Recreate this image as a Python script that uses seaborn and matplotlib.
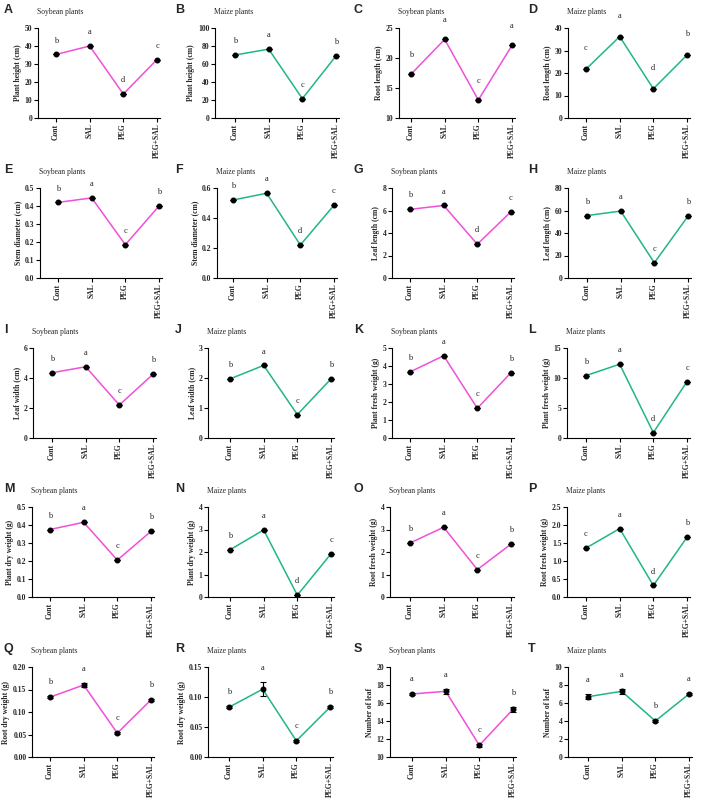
import pandas as pd
import matplotlib.pyplot as plt
import seaborn as sns
from matplotlib.ticker import MultipleLocator, FormatStrFormatter

treatments = ["Cont", "SAL", "PEG", "PEG+SAL"]

# means (soybean / maize)
soy_height = [35.3, 40.0, 13.3, 32.5]
maize_height = [70.0, 76.5, 21.5, 69.0]
soy_root_len = [17.3, 23.1, 13.0, 22.1]
maize_root_len = [21.7, 36.2, 13.0, 28.0]
soy_stem = [0.42, 0.445, 0.185, 0.40]
maize_stem = [0.52, 0.565, 0.22, 0.485]
soy_leaf_len = [6.1, 6.45, 3.0, 5.9]
maize_leaf_len = [55.5, 59.5, 13.5, 55.0]
soy_leaf_wid = [4.35, 4.75, 2.2, 4.25]
maize_leaf_wid = [1.97, 2.42, 0.78, 1.97]
soy_plant_fw = [3.67, 4.57, 1.65, 3.63]
maize_plant_fw = [10.4, 12.3, 0.9, 9.4]
soy_plant_dw = [0.375, 0.415, 0.205, 0.365]
maize_plant_dw = [2.1, 2.98, 0.08, 1.92]
soy_root_fw = [2.4, 3.1, 1.22, 2.35]
maize_root_fw = [1.36, 1.9, 0.32, 1.66]
soy_root_dw = [0.133, 0.160, 0.053, 0.127]
maize_root_dw = [0.083, 0.113, 0.027, 0.083]
soy_leaf_num = [17.0, 17.3, 11.3, 15.3]
maize_leaf_num = [6.7, 7.3, 4.0, 7.0]

# standard errors (mostly hidden under the markers)
soy_leaf_num_se = [0.15, 0.3, 0.15, 0.3]
maize_leaf_num_se = [0.3, 0.3, 0.15, 0.15]
maize_root_dw_se = [0.002, 0.012, 0.002, 0.002]
soy_root_dw_se = [0.002, 0.004, 0.002, 0.002]

# significance letters
letters = {
    "A": "badc", "B": "bacb", "C": "baca", "D": "cadb",
    "E": "bacb", "F": "badc", "G": "badc", "H": "bacb",
    "I": "bacb", "J": "bacb", "K": "bacb", "L": "badc",
    "M": "bacb", "N": "badc", "O": "bacb", "P": "cadb",
    "Q": "bacb", "R": "bacb", "S": "aacb", "T": "aaba",
}

zero = [0, 0, 0, 0]
# letter, species, ylabel, values, se, ymin, ymax, step, decimals
panels = [
    ("A", "Soybean plants", "Plant height (cm)", soy_height, zero, 0, 50, 10, 0),
    ("B", "Maize plants", "Plant height (cm)", maize_height, zero, 0, 100, 20, 0),
    ("C", "Soybean plants", "Root length (cm)", soy_root_len, zero, 10, 25, 5, 0),
    ("D", "Maize plants", "Root length (cm)", maize_root_len, zero, 0, 40, 10, 0),
    ("E", "Soybean plants", "Stem diameter (cm)", soy_stem, zero, 0, 0.5, 0.1, 1),
    ("F", "Maize plants", "Stem diameter (cm)", maize_stem, zero, 0, 0.6, 0.2, 1),
    ("G", "Soybean plants", "Leaf length (cm)", soy_leaf_len, zero, 0, 8, 2, 0),
    ("H", "Maize plants", "Leaf length (cm)", maize_leaf_len, zero, 0, 80, 20, 0),
    ("I", "Soybean plants", "Leaf width (cm)", soy_leaf_wid, zero, 0, 6, 2, 0),
    ("J", "Maize plants", "Leaf width (cm)", maize_leaf_wid, zero, 0, 3, 1, 0),
    ("K", "Soybean plants", "Plant fresh weight (g)", soy_plant_fw, zero, 0, 5, 1, 0),
    ("L", "Maize plants", "Plant fresh weight (g)", maize_plant_fw, zero, 0, 15, 5, 0),
    ("M", "Soybean plants", "Plant dry weight (g)", soy_plant_dw, zero, 0, 0.5, 0.1, 1),
    ("N", "Maize plants", "Plant dry weight (g)", maize_plant_dw, zero, 0, 4, 1, 0),
    ("O", "Soybean plants", "Root fresh weight (g)", soy_root_fw, zero, 0, 4, 1, 0),
    ("P", "Maize plants", "Root fresh weight (g)", maize_root_fw, zero, 0, 2.5, 0.5, 1),
    ("Q", "Soybean plants", "Root dry weight (g)", soy_root_dw, soy_root_dw_se, 0, 0.20, 0.05, 2),
    ("R", "Maize plants", "Root dry weight (g)", maize_root_dw, maize_root_dw_se, 0, 0.15, 0.05, 2),
    ("S", "Soybean plants", "Number of leaf", soy_leaf_num, soy_leaf_num_se, 10, 20, 2, 0),
    ("T", "Maize plants", "Number of leaf", maize_leaf_num, maize_leaf_num_se, 0, 10, 2, 0),
]

colors = {"Soybean plants": "#F050D8", "Maize plants": "#20B87E"}

# pixel layout: (left spine x, Cont x) per panel, row tops
spine_x = [38, 215, 399, 568, 40, 217, 392, 568, 33, 208, 392, 567,
           32, 208, 390, 567, 32, 208, 390, 568]
cont_x = [56, 235, 411, 586, 58, 233, 410, 587, 52, 230, 410, 586,
          50, 230, 410, 586, 50, 229, 412, 588]
row_top = [28, 188, 348, 507, 667]
letter_x = [4, 175, 354, 528]
label_off = {"C": 14, "D": 15}

W, H = 708, 798
sns.set_theme(style="ticks")
plt.rcParams['font.family'] = ['Liberation Serif', 'DejaVu Serif']

fig = plt.figure(figsize=(W / 100, H / 100), dpi=100)
spacing = 101 / 3

for k, (tag, species, ylab, vals, se, y0, y1, step, dec) in enumerate(panels):
    r, c = divmod(k, 4)
    xl = -(cont_x[k] - spine_x[k]) / spacing
    xr = 3.08
    wpx = (xr - xl) * spacing
    top = row_top[r]
    ax = fig.add_axes([spine_x[k] / W, 1 - (top + 90) / H, wpx / W, 90 / H])

    df = pd.DataFrame({"treatment": treatments, "value": vals, "se": se})
    col = colors[species]
    sns.lineplot(data=df, x="treatment", y="value", sort=False, color=col,
                 linewidth=1.1, ax=ax, zorder=2)
    ax.errorbar(range(4), df["value"], yerr=df["se"], fmt="o", color="black",
                markersize=3.3, elinewidth=0.8, capsize=2, capthick=0.8, zorder=3)

    off = label_off.get(tag, 10)
    for i, (v, e, g) in enumerate(zip(vals, se, letters[tag])):
        ax.annotate(g, (i, v + e), xytext=(0, off), textcoords="offset points",
                    ha="center", va="center", fontsize=6, color="#222222")

    ax.set_xlim(xl, xr)
    ax.set_ylim(y0, y1)
    ax.yaxis.set_major_locator(MultipleLocator(step))
    ax.yaxis.set_major_formatter(FormatStrFormatter(f"%.{dec}f"))
    ax.set_xticks(range(4))
    ax.set_xticklabels(treatments, rotation=90, fontweight="bold")
    for lab in ax.get_yticklabels():
        lab.set_fontweight("bold")
    ax.tick_params(labelsize=5.5, width=0.8, length=3, pad=1, color="black")
    ax.set_xlabel("")
    ax.set_ylabel(ylab, fontsize=5.5, fontweight="bold", labelpad=2)
    sns.despine(ax=ax)
    for s in ("left", "bottom"):
        ax.spines[s].set_linewidth(0.8)
        ax.spines[s].set_color("black")

    fig.text(letter_x[c] / W, 1 - (top - 18) / H, tag, fontsize=9,
             fontweight="bold", family="Liberation Sans", va="center")
    fig.text((spine_x[k] - 1) / W, 1 - (top - 16) / H, species, fontsize=5.5,
             va="center")

fig.savefig("out.png", dpi=100)
